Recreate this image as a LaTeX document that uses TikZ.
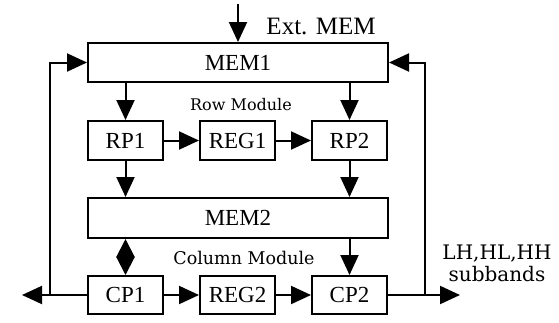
\documentclass[tikz,border=0pt]{standalone}
\usepackage{fontspec}
\setmainfont{Liberation Serif}
\newfontfamily\labfont{DejaVu Serif}
\usetikzlibrary{arrows.meta}
\tikzset{
  blk/.style={draw, line width=2pt, inner sep=0pt, font=\fontsize{23}{26}\selectfont},
  bigblk/.style={blk, minimum width=300pt, minimum height=39pt},
  smallblk/.style={blk, minimum width=75pt, minimum height=39pt},
  arr/.style={line width=2pt, -{Triangle[length=20pt,width=18pt]}},
  lab/.style={font=\labfont\fontsize{16}{19}\selectfont, inner sep=0pt},
}
\begin{document}
\begin{tikzpicture}[x=1pt,y=-1pt]
\useasboundingbox (0,0) rectangle (559,322);
\node[bigblk] (mem1) at (238,62.5) {MEM1};
\node[smallblk] (rp1) at (125.5,140.5) {RP1};
\node[smallblk] (reg1) at (237.5,140.5) {REG1};
\node[smallblk] (rp2) at (349.5,140.5) {RP2};
\node[bigblk, minimum height=40pt] (mem2) at (238,218) {MEM2};
\node[smallblk, minimum height=38pt] (cp1) at (125.5,295) {CP1};
\node[smallblk, minimum height=38pt] (reg2) at (237.5,295) {REG2};
\node[smallblk, minimum height=38pt] (cp2) at (349.5,295) {CP2};

\node[font=\fontsize{25}{28}\selectfont, inner sep=0pt, anchor=base] (ext) at (321,34) {Ext. MEM};
\node[lab] (row) at (241,105) {Row Module};
\node[lab, font=\labfont\fontsize{17.5}{20}\selectfont] (col) at (244,258) {Column Module};
\node[lab, font=\labfont\fontsize{20}{22}\selectfont, align=center] (sub) at (497,263) {LH,HL,HH\\subbands};

\coordinate (top) at (238,4);
\coordinate (lend) at (22,295);
\coordinate (rend) at (460,295);
\coordinate (ljoin) at (50,295);
\coordinate (rjoin) at (425,295);

\draw[arr] (top) -- (mem1.north);
\draw[arr] (rp1.north |- mem1.south) -- (rp1.north);
\draw[arr] (rp2.north |- mem1.south) -- (rp2.north);
\draw[arr] (rp1) -- (reg1);
\draw[arr] (reg1) -- (rp2);
\draw[arr] (rp1.south) -- (rp1.south |- mem2.north);
\draw[arr] (rp2.south) -- (rp2.south |- mem2.north);
\draw[line width=2pt, {Triangle[length=18pt,width=18pt]}-{Triangle[length=18pt,width=18pt]}] (cp1.north |- mem2.south) -- (cp1.north);
\draw[arr] (cp2.north |- mem2.south) -- (cp2.north);
\draw[arr] (cp1) -- (reg2);
\draw[arr] (reg2) -- (cp2);
\draw[arr] (cp1.west) -- (lend);
\draw[arr] (ljoin) -- (ljoin |- mem1.west) -- (mem1.west);
\draw[arr] (cp2.east) -- (rend);
\draw[arr] (rjoin) -- (rjoin |- mem1.east) -- (mem1.east);
\end{tikzpicture}
\end{document}
